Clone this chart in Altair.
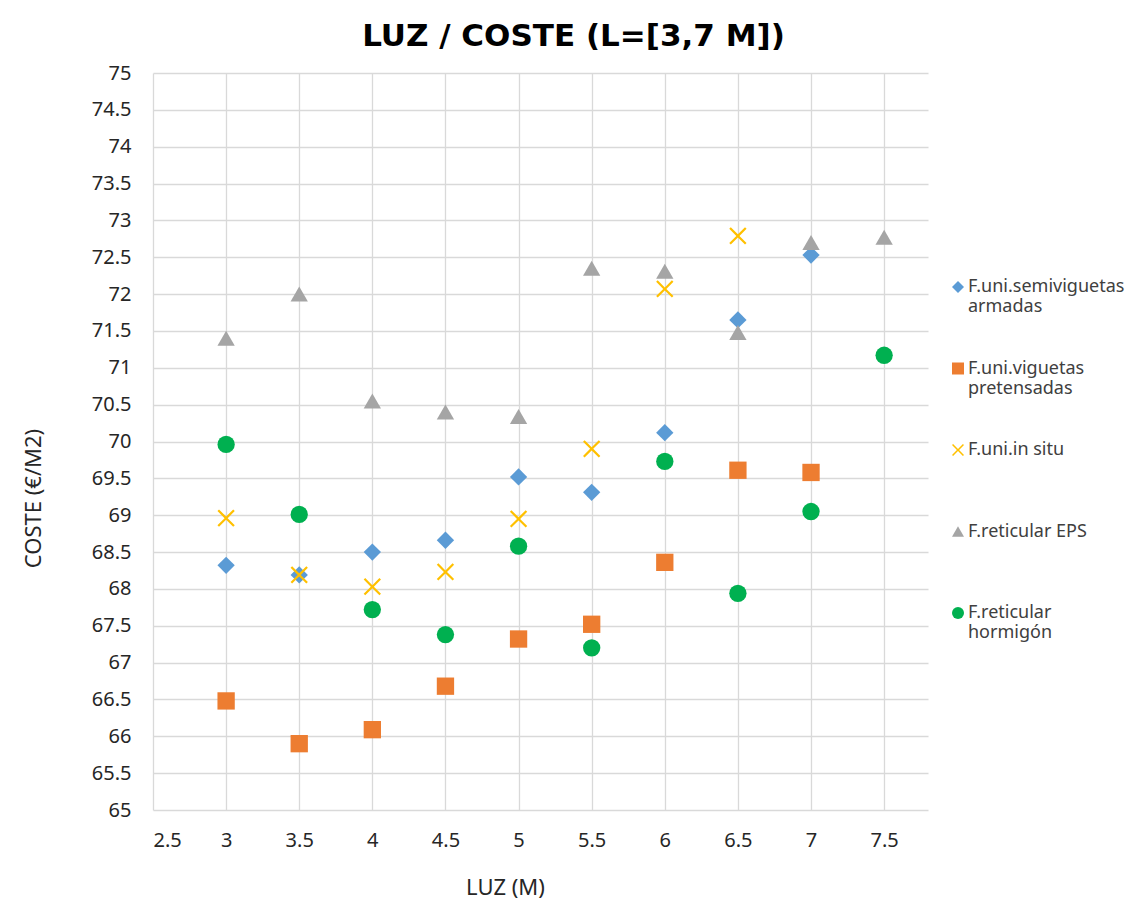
import altair as alt
import pandas as pd

# ---- data ----
luz = [3, 3.5, 4, 4.5, 5, 5.5, 6, 6.5, 7, 7.5]

series_names = [
    "F.uni.semiviguetas armadas",
    "F.uni.viguetas pretensadas",
    "F.uni.in situ",
    "F.reticular EPS",
    "F.reticular hormigón",
]

semiviguetas = [68.32, 68.19, 68.50, 68.66, 69.52, 69.31, 70.12, 71.65, 72.53, None]
viguetas = [66.48, 65.90, 66.09, 66.68, 67.32, 67.52, 68.36, 69.61, 69.58, None]
in_situ = [68.96, 68.19, 68.03, 68.23, 68.95, 69.90, 72.07, 72.79, None, None]
eps = [71.40, 72.00, 70.55, 70.40, 70.34, 72.35, 72.31, 71.48, 72.70, 72.77]
hormigon = [69.96, 69.01, 67.72, 67.38, 68.58, 67.20, 69.73, 67.94, 69.05, 71.17]

series_values = [semiviguetas, viguetas, in_situ, eps, hormigon]

legend_lines = {
    "F.uni.semiviguetas armadas": ["F.uni.semiviguetas", "armadas"],
    "F.uni.viguetas pretensadas": ["F.uni.viguetas", "pretensadas"],
    "F.uni.in situ": ["F.uni.in situ", " "],
    "F.reticular EPS": ["F.reticular EPS", " "],
    "F.reticular hormigón": ["F.reticular", "hormigón"],
}

colors = ["#5B9BD5", "#ED7D31", "#FFC000", "#A5A5A5", "#00B050"]
x_path = "M-1,-0.82L-0.82,-1L0,-0.18L0.82,-1L1,-0.82L0.18,0L1,0.82L0.82,1L0,0.18L-0.82,1L-1,0.82L-0.18,0Z"
shapes = ["diamond", "square", x_path, "triangle-up", "circle"]

x_ticks = [2.5, 3, 3.5, 4, 4.5, 5, 5.5, 6, 6.5, 7, 7.5]
y_ticks = [65 + 0.5 * i for i in range(21)]

rows = []
for name, vals in zip(series_names, series_values):
    for xv, yv in zip(luz, vals):
        if yv is not None:
            rows.append({"luz": xv, "coste": yv, "serie": name})
df = pd.DataFrame(rows)

# labelExpr building multi-line legend labels
expr = "''"
for name in reversed(series_names):
    a, b = legend_lines[name]
    expr = f"datum.label == '{name}' ? ['{a}', '{b}'] : ({expr})"

FONT = "Noto Sans"

chart = (
    alt.Chart(df)
    .mark_point(filled=True, size=300, opacity=1)
    .encode(
        x=alt.X(
            "luz:Q",
            scale=alt.Scale(domain=[2.5, 7.8], nice=False, zero=False),
            axis=alt.Axis(
                values=x_ticks,
                format="~g",
                title="LUZ (M)",
                titleX=352,
                titleY=84,
                titleAnchor="start",
                titleAlign="center",
                titleBaseline="alphabetic",
                labelPadding=20,
            ),
        ),
        y=alt.Y(
            "coste:Q",
            scale=alt.Scale(domain=[65, 75], nice=False, zero=False),
            axis=alt.Axis(
                values=y_ticks,
                format="~g",
                title="COSTE (€/M2)",
                titleX=-120,
                titleY=425,
                titleAngle=270,
                titleAnchor="start",
                titleAlign="center",
                titleBaseline="middle",
                labelPadding=22,
            ),
        ),
        color=alt.Color(
            "serie:N",
            scale=alt.Scale(domain=series_names, range=colors),
            legend=alt.Legend(
                title=None,
                orient="none",
                legendX=796,
                legendY=205,
                symbolSize=144,
                labelExpr=expr,
                labelFontSize=18,
                labelFont=FONT,
                labelColor="#404040",
                labelBaseline="middle",
                labelOffset=1,
                rowPadding=43.5,
                padding=0,
                labelLimit=300,
            ),
        ),
        shape=alt.Shape(
            "serie:N",
            scale=alt.Scale(domain=series_names, range=shapes),
        ),
    )
    .properties(
        width=775,
        height=737,
        autosize=alt.AutoSizeParams(type="none"),
        padding={"left": 145, "top": 65, "right": 198, "bottom": 90},
        background="white",
        title=alt.TitleParams(
            "LUZ / COSTE (L=[3,7 M])",
            font="DejaVu Sans",
            fontSize=31,
            fontWeight="bold",
            color="#000000",
            anchor="middle",
            frame="group",
            dx=33,
            offset=10,
        ),
    )
    .configure_view(stroke=None)
    .configure_axis(
        grid=True,
        gridColor="#D9D9D9",
        gridWidth=1.3,
        domain=False,
        ticks=False,
        labelFont=FONT,
        labelFontSize=20,
        labelColor="#262626",
        titleFont=FONT,
        titleFontSize=22,
        titleFontWeight="normal",
        titleColor="#262626",
    )
)

chart.save("out.html", embed_options={"renderer": "svg", "actions": False})
